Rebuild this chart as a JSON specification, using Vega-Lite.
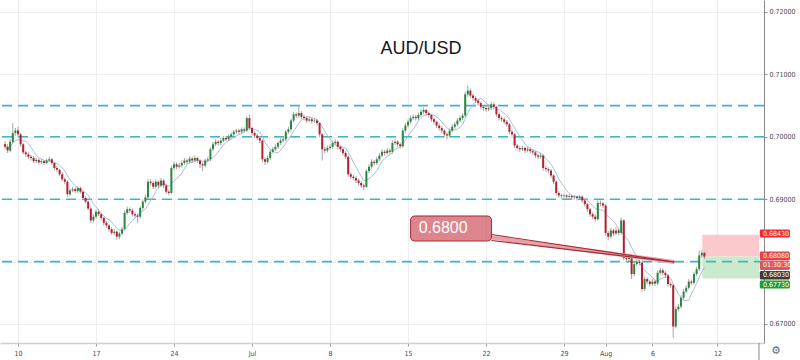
{
"$schema": "https://vega.github.io/schema/vega-lite/v6.json",
"width": 764, "height": 343,
"autosize": "none",
"padding": {"left": 0, "top": 0, "right": 36, "bottom": 17},
"background": "white",
"title": {"text": "AUD/USD", "fontSize": 18, "font": "Liberation Sans", "fontWeight": "normal", "color": "#131722", "anchor": "middle", "dx": 39, "offset": -67, "baseline": "middle"},
"config": {
  "view": {"stroke": null},
  "axis": {"labelFont": "Liberation Sans Narrow, DejaVu Sans Condensed, Liberation Sans", "labelFontSize": 7, "labelColor": "#4a4a4a", "gridColor": "#eeeeee", "gridWidth": 1, "tickColor": "#9a9a9a", "tickSize": 3}
},
"resolve": {"scale": {"color": "independent"}},
"datasets": {
"candles": [
{"i":-5,"o":0.6988,"h":0.6993,"l":0.698,"c":0.6984},
{"i":-4,"o":0.6984,"h":0.6988,"l":0.6974,"c":0.6978},
{"i":-3,"o":0.6978,"h":0.6996,"l":0.6975,"c":0.6992},
{"i":-2,"o":0.6992,"h":0.7022,"l":0.699,"c":0.7006},
{"i":-1,"o":0.7006,"h":0.7014,"l":0.7002,"c":0.701},
{"i":0,"o":0.701,"h":0.7016,"l":0.7,"c":0.7004},
{"i":1,"o":0.7004,"h":0.7006,"l":0.6984,"c":0.6988},
{"i":2,"o":0.6988,"h":0.699,"l":0.6972,"c":0.6975},
{"i":3,"o":0.6975,"h":0.6978,"l":0.6968,"c":0.6972},
{"i":4,"o":0.6972,"h":0.6975,"l":0.6965,"c":0.6968},
{"i":5,"o":0.6968,"h":0.6971,"l":0.6962,"c":0.6966},
{"i":6,"o":0.6966,"h":0.6969,"l":0.6958,"c":0.6961},
{"i":7,"o":0.6961,"h":0.6966,"l":0.6958,"c":0.6963},
{"i":8,"o":0.6963,"h":0.6965,"l":0.6956,"c":0.6959},
{"i":9,"o":0.6959,"h":0.6964,"l":0.6956,"c":0.6961},
{"i":10,"o":0.6961,"h":0.6963,"l":0.6955,"c":0.6958},
{"i":11,"o":0.6958,"h":0.6965,"l":0.6956,"c":0.6962},
{"i":12,"o":0.6962,"h":0.6968,"l":0.696,"c":0.6964},
{"i":13,"o":0.6964,"h":0.6966,"l":0.6955,"c":0.6958},
{"i":14,"o":0.6958,"h":0.696,"l":0.6946,"c":0.695},
{"i":15,"o":0.695,"h":0.6953,"l":0.6943,"c":0.6947},
{"i":16,"o":0.6947,"h":0.6949,"l":0.6937,"c":0.694},
{"i":17,"o":0.694,"h":0.6943,"l":0.6929,"c":0.6932},
{"i":18,"o":0.6932,"h":0.6935,"l":0.6924,"c":0.6928},
{"i":19,"o":0.6928,"h":0.693,"l":0.6904,"c":0.6908},
{"i":20,"o":0.6908,"h":0.6917,"l":0.6905,"c":0.6914},
{"i":21,"o":0.6914,"h":0.692,"l":0.6911,"c":0.6916},
{"i":22,"o":0.6916,"h":0.6919,"l":0.691,"c":0.6913},
{"i":23,"o":0.6913,"h":0.6921,"l":0.691,"c":0.6918},
{"i":24,"o":0.6918,"h":0.692,"l":0.6909,"c":0.6912},
{"i":25,"o":0.6912,"h":0.6914,"l":0.6898,"c":0.6902},
{"i":26,"o":0.6902,"h":0.6905,"l":0.6893,"c":0.6896},
{"i":27,"o":0.6896,"h":0.6898,"l":0.6882,"c":0.6885},
{"i":28,"o":0.6885,"h":0.6887,"l":0.6862,"c":0.6866},
{"i":29,"o":0.6866,"h":0.6876,"l":0.6863,"c":0.6872},
{"i":30,"o":0.6872,"h":0.6883,"l":0.6869,"c":0.688},
{"i":31,"o":0.688,"h":0.6884,"l":0.6873,"c":0.6876},
{"i":32,"o":0.6876,"h":0.6878,"l":0.6866,"c":0.687},
{"i":33,"o":0.687,"h":0.6872,"l":0.6858,"c":0.6862},
{"i":34,"o":0.6862,"h":0.6865,"l":0.6854,"c":0.6858},
{"i":35,"o":0.6858,"h":0.686,"l":0.6848,"c":0.6852},
{"i":36,"o":0.6852,"h":0.6855,"l":0.6843,"c":0.6846},
{"i":37,"o":0.6846,"h":0.6852,"l":0.6842,"c":0.6848},
{"i":38,"o":0.6848,"h":0.685,"l":0.6835,"c":0.684},
{"i":39,"o":0.684,"h":0.6848,"l":0.6836,"c":0.6845},
{"i":40,"o":0.6845,"h":0.6856,"l":0.6842,"c":0.6852},
{"i":41,"o":0.6852,"h":0.6882,"l":0.685,"c":0.6878},
{"i":42,"o":0.6878,"h":0.6888,"l":0.6875,"c":0.6884},
{"i":43,"o":0.6884,"h":0.6887,"l":0.6878,"c":0.6882},
{"i":44,"o":0.6882,"h":0.6885,"l":0.6872,"c":0.6876},
{"i":45,"o":0.6876,"h":0.6879,"l":0.687,"c":0.6874},
{"i":46,"o":0.6874,"h":0.6877,"l":0.6862,"c":0.6872},
{"i":47,"o":0.6872,"h":0.6889,"l":0.6869,"c":0.6886},
{"i":48,"o":0.6886,"h":0.6899,"l":0.6883,"c":0.6896},
{"i":49,"o":0.6896,"h":0.6907,"l":0.6893,"c":0.6903},
{"i":50,"o":0.6903,"h":0.6932,"l":0.69,"c":0.6928},
{"i":51,"o":0.6928,"h":0.6932,"l":0.6922,"c":0.6926},
{"i":52,"o":0.6926,"h":0.6929,"l":0.6916,"c":0.692},
{"i":53,"o":0.692,"h":0.6932,"l":0.6917,"c":0.6928},
{"i":54,"o":0.6928,"h":0.693,"l":0.6918,"c":0.6922},
{"i":55,"o":0.6922,"h":0.6934,"l":0.6919,"c":0.693},
{"i":56,"o":0.693,"h":0.6932,"l":0.6918,"c":0.6922},
{"i":57,"o":0.6922,"h":0.6924,"l":0.6908,"c":0.6912},
{"i":58,"o":0.6912,"h":0.6915,"l":0.6906,"c":0.691},
{"i":59,"o":0.691,"h":0.6954,"l":0.6908,"c":0.695},
{"i":60,"o":0.695,"h":0.696,"l":0.6947,"c":0.6956},
{"i":61,"o":0.6956,"h":0.6959,"l":0.6948,"c":0.6952},
{"i":62,"o":0.6952,"h":0.6958,"l":0.6949,"c":0.6954},
{"i":63,"o":0.6954,"h":0.6962,"l":0.6951,"c":0.6958},
{"i":64,"o":0.6958,"h":0.6966,"l":0.6955,"c":0.6962},
{"i":65,"o":0.6962,"h":0.6965,"l":0.6956,"c":0.696},
{"i":66,"o":0.696,"h":0.6969,"l":0.6957,"c":0.6965},
{"i":67,"o":0.6965,"h":0.6968,"l":0.6958,"c":0.6962},
{"i":68,"o":0.6962,"h":0.697,"l":0.6959,"c":0.6966},
{"i":69,"o":0.6966,"h":0.6968,"l":0.6958,"c":0.6962},
{"i":70,"o":0.6962,"h":0.6964,"l":0.695,"c":0.6956},
{"i":71,"o":0.6956,"h":0.6959,"l":0.6945,"c":0.6954},
{"i":72,"o":0.6954,"h":0.6965,"l":0.6951,"c":0.6962},
{"i":73,"o":0.6962,"h":0.6968,"l":0.6959,"c":0.6964},
{"i":74,"o":0.6964,"h":0.6983,"l":0.6961,"c":0.698},
{"i":75,"o":0.698,"h":0.6992,"l":0.6977,"c":0.6988},
{"i":76,"o":0.6988,"h":0.6996,"l":0.6985,"c":0.6992},
{"i":77,"o":0.6992,"h":0.6995,"l":0.6986,"c":0.699},
{"i":78,"o":0.699,"h":0.6998,"l":0.6987,"c":0.6994},
{"i":79,"o":0.6994,"h":0.7001,"l":0.6991,"c":0.6998},
{"i":80,"o":0.6998,"h":0.7001,"l":0.6993,"c":0.6996},
{"i":81,"o":0.6996,"h":0.7004,"l":0.6993,"c":0.7},
{"i":82,"o":0.7,"h":0.7007,"l":0.6997,"c":0.7004},
{"i":83,"o":0.7004,"h":0.7011,"l":0.7001,"c":0.7008},
{"i":84,"o":0.7008,"h":0.7013,"l":0.7005,"c":0.701},
{"i":85,"o":0.701,"h":0.7013,"l":0.7004,"c":0.7008},
{"i":86,"o":0.7008,"h":0.7015,"l":0.7005,"c":0.7012},
{"i":87,"o":0.7012,"h":0.7015,"l":0.7007,"c":0.701},
{"i":88,"o":0.701,"h":0.7033,"l":0.7008,"c":0.703},
{"i":89,"o":0.703,"h":0.7036,"l":0.7011,"c":0.7014},
{"i":90,"o":0.7014,"h":0.7016,"l":0.7002,"c":0.7006},
{"i":91,"o":0.7006,"h":0.7009,"l":0.6998,"c":0.7002},
{"i":92,"o":0.7002,"h":0.7005,"l":0.6995,"c":0.6998},
{"i":93,"o":0.6998,"h":0.7001,"l":0.699,"c":0.6994},
{"i":94,"o":0.6994,"h":0.6996,"l":0.696,"c":0.6964},
{"i":95,"o":0.6964,"h":0.6967,"l":0.6955,"c":0.696},
{"i":96,"o":0.696,"h":0.697,"l":0.6957,"c":0.6966},
{"i":97,"o":0.6966,"h":0.6979,"l":0.6963,"c":0.6976},
{"i":98,"o":0.6976,"h":0.6984,"l":0.6973,"c":0.698},
{"i":99,"o":0.698,"h":0.6988,"l":0.6977,"c":0.6984},
{"i":100,"o":0.6984,"h":0.6993,"l":0.6981,"c":0.699},
{"i":101,"o":0.699,"h":0.6998,"l":0.6987,"c":0.6994},
{"i":102,"o":0.6994,"h":0.7,"l":0.6991,"c":0.6996},
{"i":103,"o":0.6996,"h":0.7011,"l":0.6993,"c":0.7008},
{"i":104,"o":0.7008,"h":0.7016,"l":0.7005,"c":0.7012},
{"i":105,"o":0.7012,"h":0.7029,"l":0.7009,"c":0.7026},
{"i":106,"o":0.7026,"h":0.704,"l":0.7023,"c":0.7036},
{"i":107,"o":0.7036,"h":0.7039,"l":0.703,"c":0.7034},
{"i":108,"o":0.7034,"h":0.7051,"l":0.7031,"c":0.7038},
{"i":109,"o":0.7038,"h":0.7041,"l":0.7028,"c":0.7032},
{"i":110,"o":0.7032,"h":0.7035,"l":0.7026,"c":0.703},
{"i":111,"o":0.703,"h":0.7033,"l":0.7022,"c":0.7026},
{"i":112,"o":0.7026,"h":0.7032,"l":0.7023,"c":0.7028},
{"i":113,"o":0.7028,"h":0.7031,"l":0.7021,"c":0.7025},
{"i":114,"o":0.7025,"h":0.703,"l":0.7022,"c":0.7026},
{"i":115,"o":0.7026,"h":0.7029,"l":0.7018,"c":0.7022},
{"i":116,"o":0.7022,"h":0.7024,"l":0.7,"c":0.7004},
{"i":117,"o":0.7004,"h":0.7006,"l":0.6962,"c":0.698},
{"i":118,"o":0.698,"h":0.6984,"l":0.6974,"c":0.6978},
{"i":119,"o":0.6978,"h":0.6986,"l":0.6975,"c":0.6982},
{"i":120,"o":0.6982,"h":0.6988,"l":0.6979,"c":0.6984},
{"i":121,"o":0.6984,"h":0.6994,"l":0.6981,"c":0.699},
{"i":122,"o":0.699,"h":0.6996,"l":0.6987,"c":0.6992},
{"i":123,"o":0.6992,"h":0.6994,"l":0.698,"c":0.6984},
{"i":124,"o":0.6984,"h":0.6987,"l":0.6976,"c":0.698},
{"i":125,"o":0.698,"h":0.6982,"l":0.697,"c":0.6974},
{"i":126,"o":0.6974,"h":0.6977,"l":0.6964,"c":0.6968},
{"i":127,"o":0.6968,"h":0.697,"l":0.6936,"c":0.694},
{"i":128,"o":0.694,"h":0.6943,"l":0.6932,"c":0.6936},
{"i":129,"o":0.6936,"h":0.6939,"l":0.693,"c":0.6934},
{"i":130,"o":0.6934,"h":0.6937,"l":0.6926,"c":0.693},
{"i":131,"o":0.693,"h":0.6933,"l":0.6922,"c":0.6926},
{"i":132,"o":0.6926,"h":0.6929,"l":0.6918,"c":0.6922},
{"i":133,"o":0.6922,"h":0.6925,"l":0.6914,"c":0.692},
{"i":134,"o":0.692,"h":0.6948,"l":0.6918,"c":0.6945},
{"i":135,"o":0.6945,"h":0.6956,"l":0.6942,"c":0.6952},
{"i":136,"o":0.6952,"h":0.6964,"l":0.6949,"c":0.696},
{"i":137,"o":0.696,"h":0.6963,"l":0.6954,"c":0.6958},
{"i":138,"o":0.6958,"h":0.6968,"l":0.6955,"c":0.6964},
{"i":139,"o":0.6964,"h":0.6974,"l":0.6961,"c":0.697},
{"i":140,"o":0.697,"h":0.698,"l":0.6967,"c":0.6976},
{"i":141,"o":0.6976,"h":0.6979,"l":0.697,"c":0.6974},
{"i":142,"o":0.6974,"h":0.6982,"l":0.6971,"c":0.6978},
{"i":143,"o":0.6978,"h":0.6981,"l":0.6972,"c":0.6976},
{"i":144,"o":0.6976,"h":0.6994,"l":0.6973,"c":0.699},
{"i":145,"o":0.699,"h":0.6996,"l":0.6987,"c":0.6992},
{"i":146,"o":0.6992,"h":0.6995,"l":0.6984,"c":0.6988},
{"i":147,"o":0.6988,"h":0.6991,"l":0.6981,"c":0.6985},
{"i":148,"o":0.6985,"h":0.7014,"l":0.6982,"c":0.701},
{"i":149,"o":0.701,"h":0.7022,"l":0.7007,"c":0.7018},
{"i":150,"o":0.7018,"h":0.7028,"l":0.7015,"c":0.7024},
{"i":151,"o":0.7024,"h":0.7034,"l":0.7021,"c":0.703},
{"i":152,"o":0.703,"h":0.7036,"l":0.7027,"c":0.7032},
{"i":153,"o":0.7032,"h":0.7035,"l":0.7026,"c":0.703},
{"i":154,"o":0.703,"h":0.7039,"l":0.7027,"c":0.7035},
{"i":155,"o":0.7035,"h":0.7044,"l":0.7032,"c":0.704},
{"i":156,"o":0.704,"h":0.7047,"l":0.7037,"c":0.7043},
{"i":157,"o":0.7043,"h":0.7045,"l":0.7034,"c":0.7038},
{"i":158,"o":0.7038,"h":0.7041,"l":0.7031,"c":0.7035},
{"i":159,"o":0.7035,"h":0.7037,"l":0.7024,"c":0.7028},
{"i":160,"o":0.7028,"h":0.7031,"l":0.702,"c":0.7024},
{"i":161,"o":0.7024,"h":0.7026,"l":0.7014,"c":0.7018},
{"i":162,"o":0.7018,"h":0.7021,"l":0.701,"c":0.7014},
{"i":163,"o":0.7014,"h":0.7017,"l":0.7006,"c":0.701},
{"i":164,"o":0.701,"h":0.7012,"l":0.7,"c":0.7004},
{"i":165,"o":0.7004,"h":0.7007,"l":0.6996,"c":0.7002},
{"i":166,"o":0.7002,"h":0.7013,"l":0.6999,"c":0.701},
{"i":167,"o":0.701,"h":0.702,"l":0.7007,"c":0.7016},
{"i":168,"o":0.7016,"h":0.7024,"l":0.7013,"c":0.702},
{"i":169,"o":0.702,"h":0.703,"l":0.7017,"c":0.7026},
{"i":170,"o":0.7026,"h":0.7034,"l":0.7023,"c":0.703},
{"i":171,"o":0.703,"h":0.7038,"l":0.7027,"c":0.7034},
{"i":172,"o":0.7034,"h":0.7072,"l":0.7031,"c":0.7068},
{"i":173,"o":0.7068,"h":0.7082,"l":0.7064,"c":0.7074},
{"i":174,"o":0.7074,"h":0.7077,"l":0.7062,"c":0.7066},
{"i":175,"o":0.7066,"h":0.7069,"l":0.7058,"c":0.7062},
{"i":176,"o":0.7062,"h":0.7065,"l":0.7054,"c":0.7058},
{"i":177,"o":0.7058,"h":0.7061,"l":0.705,"c":0.7054},
{"i":178,"o":0.7054,"h":0.7056,"l":0.7044,"c":0.7048},
{"i":179,"o":0.7048,"h":0.7051,"l":0.7042,"c":0.7046},
{"i":180,"o":0.7046,"h":0.7049,"l":0.704,"c":0.7044},
{"i":181,"o":0.7044,"h":0.705,"l":0.7041,"c":0.7046},
{"i":182,"o":0.7046,"h":0.7056,"l":0.7043,"c":0.7052},
{"i":183,"o":0.7052,"h":0.7055,"l":0.7044,"c":0.7048},
{"i":184,"o":0.7048,"h":0.705,"l":0.7032,"c":0.7036},
{"i":185,"o":0.7036,"h":0.7039,"l":0.7026,"c":0.703},
{"i":186,"o":0.703,"h":0.7033,"l":0.7024,"c":0.7028},
{"i":187,"o":0.7028,"h":0.7031,"l":0.702,"c":0.7024},
{"i":188,"o":0.7024,"h":0.7027,"l":0.7016,"c":0.702},
{"i":189,"o":0.702,"h":0.7022,"l":0.7004,"c":0.7008},
{"i":190,"o":0.7008,"h":0.7011,"l":0.7,"c":0.7004},
{"i":191,"o":0.7004,"h":0.7006,"l":0.6982,"c":0.6986},
{"i":192,"o":0.6986,"h":0.6989,"l":0.6978,"c":0.6982},
{"i":193,"o":0.6982,"h":0.6985,"l":0.6976,"c":0.698},
{"i":194,"o":0.698,"h":0.6986,"l":0.6977,"c":0.6982},
{"i":195,"o":0.6982,"h":0.6985,"l":0.6974,"c":0.6978},
{"i":196,"o":0.6978,"h":0.6984,"l":0.6975,"c":0.698},
{"i":197,"o":0.698,"h":0.6983,"l":0.6973,"c":0.6977},
{"i":198,"o":0.6977,"h":0.698,"l":0.6971,"c":0.6975},
{"i":199,"o":0.6975,"h":0.6978,"l":0.6966,"c":0.697},
{"i":200,"o":0.697,"h":0.6973,"l":0.6964,"c":0.6968},
{"i":201,"o":0.6968,"h":0.6974,"l":0.6965,"c":0.697},
{"i":202,"o":0.697,"h":0.6972,"l":0.6946,"c":0.695},
{"i":203,"o":0.695,"h":0.6953,"l":0.6944,"c":0.6948},
{"i":204,"o":0.6948,"h":0.6951,"l":0.6942,"c":0.6946},
{"i":205,"o":0.6946,"h":0.6948,"l":0.6934,"c":0.6938},
{"i":206,"o":0.6938,"h":0.694,"l":0.6924,"c":0.6928},
{"i":207,"o":0.6928,"h":0.693,"l":0.6906,"c":0.691},
{"i":208,"o":0.691,"h":0.6913,"l":0.6902,"c":0.6906},
{"i":209,"o":0.6906,"h":0.6909,"l":0.6901,"c":0.6905},
{"i":210,"o":0.6905,"h":0.6909,"l":0.6902,"c":0.6906},
{"i":211,"o":0.6906,"h":0.6908,"l":0.69,"c":0.6904},
{"i":212,"o":0.6904,"h":0.6908,"l":0.6901,"c":0.6905},
{"i":213,"o":0.6905,"h":0.6907,"l":0.6899,"c":0.6903},
{"i":214,"o":0.6903,"h":0.6907,"l":0.69,"c":0.6904},
{"i":215,"o":0.6904,"h":0.6906,"l":0.6898,"c":0.6902},
{"i":216,"o":0.6902,"h":0.6907,"l":0.6899,"c":0.6904},
{"i":217,"o":0.6904,"h":0.6906,"l":0.6894,"c":0.6898},
{"i":218,"o":0.6898,"h":0.69,"l":0.6888,"c":0.6892},
{"i":219,"o":0.6892,"h":0.6894,"l":0.688,"c":0.6884},
{"i":220,"o":0.6884,"h":0.6886,"l":0.6872,"c":0.6876},
{"i":221,"o":0.6876,"h":0.6879,"l":0.6868,"c":0.6872},
{"i":222,"o":0.6872,"h":0.6875,"l":0.6864,"c":0.6868},
{"i":223,"o":0.6868,"h":0.6898,"l":0.6866,"c":0.6894},
{"i":224,"o":0.6894,"h":0.6898,"l":0.6889,"c":0.6893},
{"i":225,"o":0.6893,"h":0.6896,"l":0.6886,"c":0.689},
{"i":226,"o":0.689,"h":0.6892,"l":0.6842,"c":0.6846},
{"i":227,"o":0.6846,"h":0.6849,"l":0.6834,"c":0.684},
{"i":228,"o":0.684,"h":0.6854,"l":0.6837,"c":0.685},
{"i":229,"o":0.685,"h":0.6853,"l":0.6841,"c":0.6845},
{"i":230,"o":0.6845,"h":0.6855,"l":0.6842,"c":0.685},
{"i":231,"o":0.685,"h":0.6853,"l":0.6842,"c":0.6846},
{"i":232,"o":0.6846,"h":0.687,"l":0.6843,"c":0.6866},
{"i":233,"o":0.6866,"h":0.6868,"l":0.6802,"c":0.6806},
{"i":234,"o":0.6806,"h":0.681,"l":0.68,"c":0.6804},
{"i":235,"o":0.6804,"h":0.6811,"l":0.6801,"c":0.6806},
{"i":236,"o":0.6806,"h":0.6808,"l":0.6772,"c":0.678},
{"i":237,"o":0.678,"h":0.68,"l":0.6777,"c":0.6796},
{"i":238,"o":0.6796,"h":0.6804,"l":0.6793,"c":0.68},
{"i":239,"o":0.68,"h":0.6803,"l":0.6794,"c":0.6798},
{"i":240,"o":0.6798,"h":0.68,"l":0.6752,"c":0.6756},
{"i":241,"o":0.6756,"h":0.6776,"l":0.6753,"c":0.6772},
{"i":242,"o":0.6772,"h":0.6775,"l":0.6764,"c":0.6768},
{"i":243,"o":0.6768,"h":0.6771,"l":0.676,"c":0.6764},
{"i":244,"o":0.6764,"h":0.6772,"l":0.6761,"c":0.6768},
{"i":245,"o":0.6768,"h":0.6771,"l":0.6761,"c":0.6765},
{"i":246,"o":0.6765,"h":0.6786,"l":0.6762,"c":0.6782},
{"i":247,"o":0.6782,"h":0.679,"l":0.6779,"c":0.6786},
{"i":248,"o":0.6786,"h":0.6789,"l":0.6778,"c":0.6782},
{"i":249,"o":0.6782,"h":0.6785,"l":0.6774,"c":0.6778},
{"i":250,"o":0.6778,"h":0.678,"l":0.676,"c":0.6764},
{"i":251,"o":0.6764,"h":0.6767,"l":0.6758,"c":0.6762},
{"i":252,"o":0.6762,"h":0.6764,"l":0.6678,"c":0.6696},
{"i":253,"o":0.6696,"h":0.6728,"l":0.6693,"c":0.6724},
{"i":254,"o":0.6724,"h":0.6732,"l":0.672,"c":0.6728},
{"i":255,"o":0.6728,"h":0.6746,"l":0.6725,"c":0.6742},
{"i":256,"o":0.6742,"h":0.6756,"l":0.6739,"c":0.6752},
{"i":257,"o":0.6752,"h":0.6762,"l":0.6749,"c":0.6758},
{"i":258,"o":0.6758,"h":0.6772,"l":0.6755,"c":0.6768},
{"i":259,"o":0.6768,"h":0.6771,"l":0.6762,"c":0.6766},
{"i":260,"o":0.6766,"h":0.6784,"l":0.6763,"c":0.678},
{"i":261,"o":0.678,"h":0.6792,"l":0.6777,"c":0.6788},
{"i":262,"o":0.6788,"h":0.6818,"l":0.6785,"c":0.681},
{"i":263,"o":0.681,"h":0.6818,"l":0.6806,"c":0.6814},
{"i":264,"o":0.6814,"h":0.6816,"l":0.6804,"c":0.6808}
],
"levels": [{"lvl":0.705},{"lvl":0.7},{"lvl":0.69},{"lvl":0.68}],
"zones": [{"zone":"stop","lo":0.6808,"hi":0.6843},{"zone":"target","lo":0.6773,"hi":0.6808}],
"note": [{"label":"0.6800","price":0.68}],
"tags": [
{"t":"0.68430","kind":"stop","top":0.685144,"bot":0.683862,"mid":0.684503},
{"t":"0.68080","kind":"last","top":0.681619,"bot":0.680176,"mid":0.680897},
{"t":"01:30:30","kind":"timer","top":0.680096,"bot":0.678654,"mid":0.679375},
{"t":"0.68030","kind":"entry","top":0.678494,"bot":0.677131,"mid":0.677821},
{"t":"0.67730","kind":"target","top":0.676971,"bot":0.675689,"mid":0.67633}
],
"icon": [{"t":"⚙"}]
},
"layer": [
{
  "data": {"name": "zones"},
  "mark": {"type": "rect"},
  "encoding": {
    "x": {"datum": 263.2, "type": "quantitative", "scale": {"domain": [-5, 285], "nice": false, "zero": false},
      "axis": {"orient": "bottom", "title": null, "values": [0,30,60,90,120,150,180,210,226,244,269], "labelExpr": "['10','17','24','Jul','8','15','22','29','Aug','6','12'][indexof([0,30,60,90,120,150,180,210,226,244,269], datum.value)]", "grid": true, "domainColor": "#cfcfcf", "domainWidth": 1.5, "labelPadding": 3}},
    "x2": {"datum": 285},
    "y": {"field": "lo", "type": "quantitative", "scale": {"domain": [0.666955, 0.721923], "nice": false, "zero": false},
      "axis": {"orient": "right", "title": null, "values": [0.67,0.675,0.68,0.685,0.69,0.695,0.7,0.705,0.71,0.715,0.72], "labelExpr": "abs(datum.value - 0.68) < 0.0001 || abs(datum.value - 0.685) < 0.0001 ? '' : format(datum.value, '.5f')", "grid": true, "domainColor": "#8a8a8a", "labelPadding": 2}},
    "y2": {"field": "hi"},
    "color": {"field": "zone", "type": "nominal", "scale": {"domain": ["stop","target"], "range": ["#fbc9cc","#cbe9cc"]}, "legend": null}
  }
},
{
  "data": {"name": "levels"},
  "mark": {"type": "rule", "color": "#3fb6c3", "strokeWidth": 1.6, "strokeDash": [10, 6]},
  "encoding": {"y": {"field": "lvl", "type": "quantitative"}}
},
{
  "data": {"name": "candles"},
  "transform": [{"window": [{"op": "mean", "field": "c", "as": "ma"}], "frame": [-6, 0], "sort": [{"field": "i"}]}],
  "mark": {"type": "line", "color": "#9fb6d2", "strokeWidth": 0.9, "clip": true},
  "encoding": {"x": {"field": "i", "type": "quantitative"}, "y": {"field": "ma", "type": "quantitative"}}
},
{
  "data": {"name": "candles"},
  "mark": {"type": "rule", "color": "#a3a3a3", "strokeWidth": 1, "clip": true},
  "encoding": {"x": {"field": "i", "type": "quantitative"}, "y": {"field": "l", "type": "quantitative"}, "y2": {"field": "h"}}
},
{
  "data": {"name": "candles"},
  "mark": {"type": "bar", "width": 2, "clip": true},
  "encoding": {
    "x": {"field": "i", "type": "quantitative"},
    "y": {"field": "o", "type": "quantitative"},
    "y2": {"field": "c"},
    "color": {"condition": {"test": "datum.c >= datum.o", "value": "#27883f"}, "value": "#b51f30"}
  }
},
{
  "data": {"name": "note"},
  "mark": {"type": "rule", "color": "#e7a1a6", "strokeWidth": 4},
  "encoding": {"x": {"datum": 182.1, "type": "quantitative"}, "y": {"datum": 0.68386, "type": "quantitative"}, "x2": {"datum": 252.4}, "y2": {"datum": 0.67994}}
},
{
  "data": {"name": "note"},
  "mark": {"type": "rule", "color": "#a82a35", "strokeWidth": 1.2},
  "encoding": {"x": {"datum": 182.1, "type": "quantitative"}, "y": {"datum": 0.68434, "type": "quantitative"}, "x2": {"datum": 252.4}, "y2": {"datum": 0.67994}}
},
{
  "data": {"name": "note"},
  "mark": {"type": "rule", "color": "#a82a35", "strokeWidth": 1.2},
  "encoding": {"x": {"datum": 182.1, "type": "quantitative"}, "y": {"datum": 0.68338, "type": "quantitative"}, "x2": {"datum": 252.4}, "y2": {"datum": 0.67994}}
},
{
  "data": {"name": "note"},
  "mark": {"type": "rect", "fill": "#c73a45", "fillOpacity": 0.62, "stroke": "#a82a35", "strokeWidth": 1, "cornerRadius": 4},
  "encoding": {"x": {"datum": 151, "type": "quantitative"}, "x2": {"datum": 182.1}, "y": {"datum": 0.68731, "type": "quantitative"}, "y2": {"datum": 0.6833}}
},
{
  "data": {"name": "note"},
  "mark": {"type": "text", "color": "white", "fontSize": 16, "font": "Liberation Sans", "align": "left", "baseline": "middle"},
  "encoding": {"x": {"datum": 154.1, "type": "quantitative"}, "y": {"datum": 0.68538, "type": "quantitative"}, "text": {"field": "label", "type": "nominal"}}
},
{
  "data": {"name": "tags"},
  "mark": {"type": "rect", "clip": false, "cornerRadius": 1.5},
  "encoding": {
    "x": {"datum": 285.3, "type": "quantitative"}, "x2": {"datum": 296.9},
    "y": {"field": "top", "type": "quantitative"}, "y2": {"field": "bot"},
    "color": {"field": "kind", "type": "nominal", "scale": {"domain": ["stop","last","timer","entry","target"], "range": ["#ef2a35","#e0434c","#e0555b","#3b3b3e","#1e9e3a"]}, "legend": null}
  }
},
{
  "data": {"name": "tags"},
  "mark": {"type": "text", "color": "white", "fontSize": 7, "font": "Liberation Sans Narrow, DejaVu Sans Condensed, Liberation Sans", "align": "left", "baseline": "middle", "clip": false},
  "encoding": {"x": {"datum": 286.5, "type": "quantitative"}, "y": {"field": "mid", "type": "quantitative"}, "text": {"field": "t", "type": "nominal"}}
},
{
  "data": {"name": "icon"},
  "mark": {"type": "rule", "color": "#8a8a8a", "strokeWidth": 1, "clip": false},
  "encoding": {"x": {"datum": 285, "type": "quantitative"}, "y": {"datum": 0.666955, "type": "quantitative"}, "y2": {"datum": 0.66424}}
},
{
  "data": {"name": "icon"},
  "mark": {"type": "text", "color": "#6a6a6a", "fontSize": 11, "font": "DejaVu Sans", "align": "center", "baseline": "middle", "clip": false},
  "encoding": {"x": {"datum": 291.5, "type": "quantitative"}, "y": {"datum": 0.66568, "type": "quantitative"}, "text": {"field": "t", "type": "nominal"}}
}
]
}
